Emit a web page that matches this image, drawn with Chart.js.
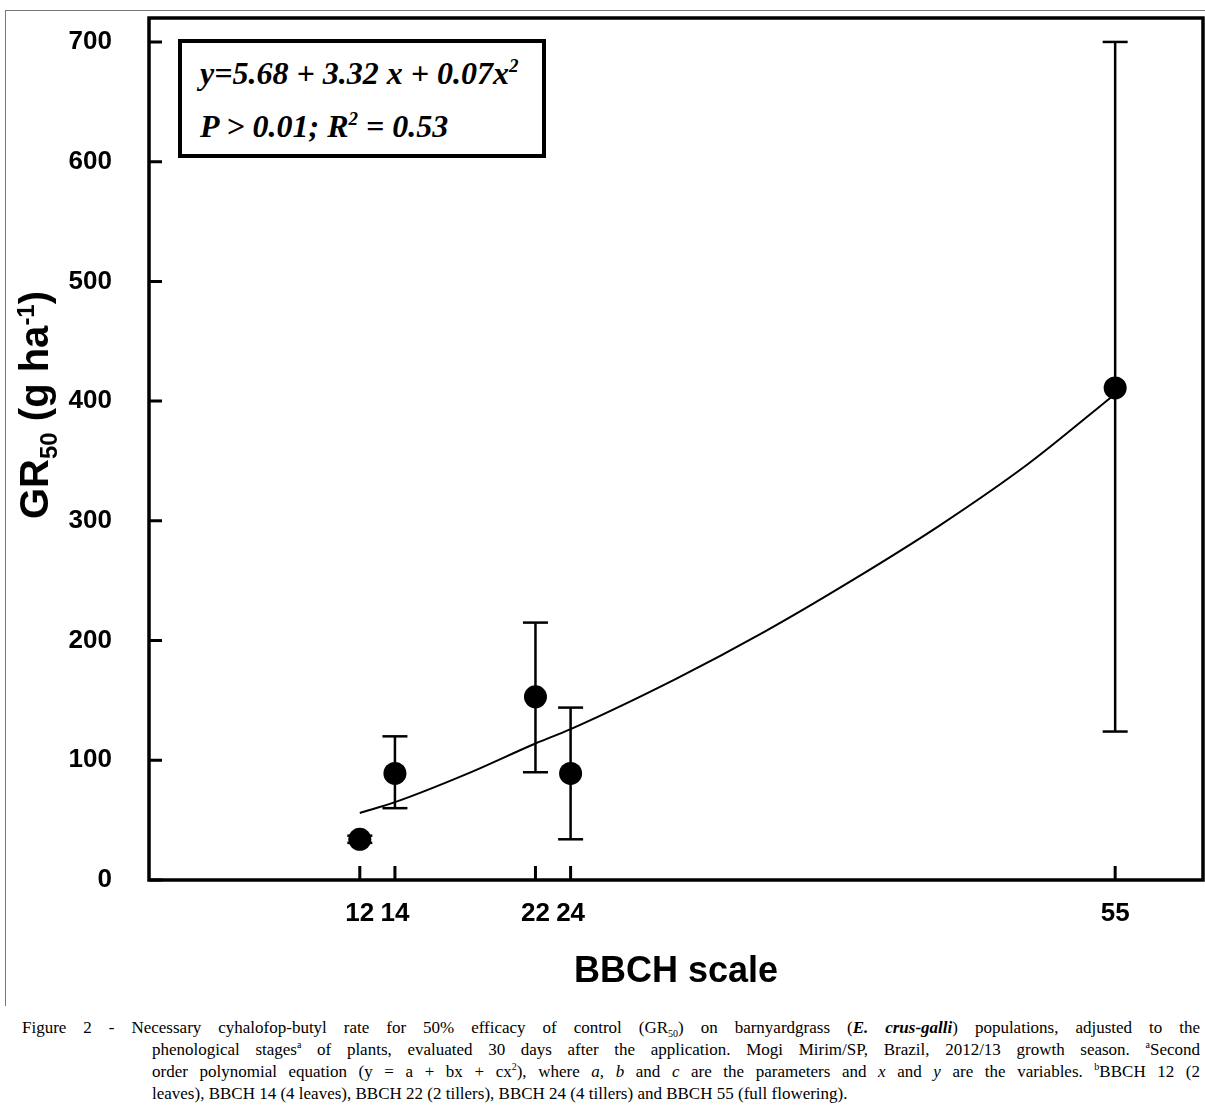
<!DOCTYPE html>
<html>
<head>
<meta charset="utf-8">
<script src="https://cdn.jsdelivr.net/npm/chart.js@4.4.1/dist/chart.umd.min.js"></script>
<style>
  body { margin: 0; background: #fff; width: 1205px; height: 1120px; position: relative; overflow: hidden; font-family: "Liberation Sans", Arial, sans-serif; }
  #frame { position: absolute; left: 5px; top: 10px; width: 1300px; height: 995px; border-top: 1px solid #777; border-left: 1px solid #777; }
  #chart { position: absolute; left: 0; top: 0; }
  #ytitle { position: absolute; left: 34px; top: 405px; transform: translate(-50%, -50%) rotate(-90deg); font: bold 40px "Liberation Sans", Arial, sans-serif; line-height: 40px; white-space: nowrap; color: #000; }
  #ytitle sub, #ytitle sup { font-size: 24px; line-height: 0; }
  #eq { position: absolute; left: 178px; top: 39px; width: 368px; height: 119px; box-sizing: border-box; border: 4px solid #000; background: #fff; }
  .eqline { position: absolute; left: 18px; font: italic bold 32px "Liberation Serif", "Times New Roman", serif; line-height: 32px; white-space: nowrap; color: #000; }
  .eqline sup { font-size: 19px; line-height: 0; }
  #cap { position: absolute; left: 22px; top: 1017px; width: 1178px; font: 17px "Liberation Serif", "Times New Roman", serif; line-height: 22px; color: #000; }
  #cap div { text-align: justify; text-align-last: justify; }
  #cap .ln { margin-left: 130px; }
  #cap .last { text-align-last: left; }
  #cap sub, #cap sup { font-size: 10px; line-height: 0; }
</style>
</head>
<body>
<div id="frame"></div>
<canvas id="chart" width="1205" height="1000"></canvas>
<div id="ytitle">GR<sub>50</sub> (g ha<sup>-1</sup>)</div>
<div id="eq">
  <div class="eqline" style="top:14px">y=5.68 + 3.32 x + 0.07x<sup>2</sup></div>
  <div class="eqline" style="top:67px">P &gt; 0.01; R<sup>2</sup> = 0.53</div>
</div>
<div id="cap">
  <div>Figure 2 - Necessary cyhalofop-butyl rate for 50% efficacy of control (GR<sub>50</sub>) on barnyardgrass (<b><i>E. crus-galli</i></b>) populations, adjusted to the</div>
  <div class="ln">phenological stages<sup>a</sup> of plants, evaluated 30 days after the application. Mogi Mirim/SP, Brazil, 2012/13 growth season. <sup>a</sup>Second</div>
  <div class="ln">order polynomial equation (y = a + bx + cx<sup>2</sup>), where <i>a, b</i> and <i>c</i> are the parameters and <i>x</i> and <i>y</i> are the variables. <sup>b</sup>BBCH 12 (2</div>
  <div class="ln last">leaves), BBCH 14 (4 leaves), BBCH 22 (2 tillers), BBCH 24 (4 tillers) and BBCH 55 (full flowering).</div>
</div>
<script>
const xTicks = [12, 14, 22, 24, 55];
const yTicks = [0, 100, 200, 300, 400, 500, 600, 700];

// BBCH stage and GR50 means with error bar ends
const stages = [12, 14, 22, 24, 55];
const gr50 = [34, 89, 153, 89, 411];
const errLow = [31, 60, 90, 34, 124];
const errHigh = [37, 120, 215, 144, 700];

// fitted curve
const fitX = [12, 14, 18, 22, 24, 30, 35, 40, 45, 50, 55];
const fitY = [56, 65, 88, 114, 126, 168, 207, 250, 296, 347, 406];

const points = stages.map((x, i) => ({ x, y: gr50[i] }));
const errData = [];
stages.forEach((x, i) => {
  errData.push({ x, y: errLow[i] }, { x, y: errHigh[i] }, { x, y: null });
});
const fitData = fitX.map((x, i) => ({ x, y: fitY[i] }));

const tickFont = { family: 'Liberation Sans, Arial, sans-serif', size: 26, weight: 'bold' };

// plot box and inward tick marks
const frameTicks = {
  id: 'frameTicks',
  afterDraw(chart) {
    const { ctx, chartArea: a, scales } = chart;
    ctx.save();
    ctx.strokeStyle = '#000';
    ctx.lineWidth = 3;
    ctx.beginPath();
    xTicks.forEach(v => {
      const px = scales.x.getPixelForValue(v);
      ctx.moveTo(px, a.bottom);
      ctx.lineTo(px, a.bottom - 14);
    });
    yTicks.forEach(v => {
      const py = scales.y.getPixelForValue(v);
      ctx.moveTo(a.left, py);
      ctx.lineTo(a.left + 13, py);
    });
    ctx.stroke();
    ctx.lineWidth = 3.5;
    ctx.strokeRect(a.left, a.top, a.right - a.left, a.bottom - a.top);
    ctx.restore();
  }
};

new Chart(document.getElementById('chart'), {
  type: 'scatter',
  data: {
    datasets: [
      {
        label: 'GR50',
        data: points,
        pointRadius: 11.5,
        pointBackgroundColor: '#000',
        pointBorderWidth: 0,
        showLine: false
      },
      {
        label: 'error',
        data: errData,
        showLine: true,
        spanGaps: false,
        borderColor: '#000',
        borderWidth: 2.5,
        pointStyle: 'line',
        pointRadius: 12.5,
        pointBorderColor: '#000',
        pointBorderWidth: 2.5
      },
      {
        label: 'fit',
        data: fitData,
        showLine: true,
        borderColor: '#000',
        borderWidth: 2,
        pointRadius: 0,
        cubicInterpolationMode: 'monotone'
      }
    ]
  },
  options: {
    responsive: false,
    animation: false,
    events: [],
    layout: { autoPadding: false, padding: { top: 18, right: 2, left: 0, bottom: 0 } },
    plugins: { legend: { display: false }, tooltip: { enabled: false } },
    scales: {
      x: {
        type: 'linear',
        min: 0,
        max: 60,
        grid: { display: false, drawTicks: false },
        border: { display: false },
        afterBuildTicks: s => { s.ticks = xTicks.map(v => ({ value: v })); },
        afterFit: s => { s.height = 120; s.paddingLeft = 0; s.paddingRight = 0; },
        ticks: { font: tickFont, color: '#000', padding: 18, autoSkip: false, maxRotation: 0 },
        title: {
          display: true,
          text: 'BBCH scale',
          color: '#000',
          font: { family: 'Liberation Sans, Arial, sans-serif', size: 36, weight: 'bold' },
          padding: { top: 0, bottom: 6 }
        }
      },
      y: {
        type: 'linear',
        min: 0,
        max: 720,
        grid: { display: false, drawTicks: false },
        border: { display: false },
        afterBuildTicks: s => { s.ticks = yTicks.map(v => ({ value: v })); },
        afterFit: s => { s.width = 149; s.paddingTop = 0; s.paddingBottom = 0; },
        ticks: { font: tickFont, color: '#000', padding: 37 }
      }
    }
  },
  plugins: [frameTicks]
});
</script>
</body>
</html>
